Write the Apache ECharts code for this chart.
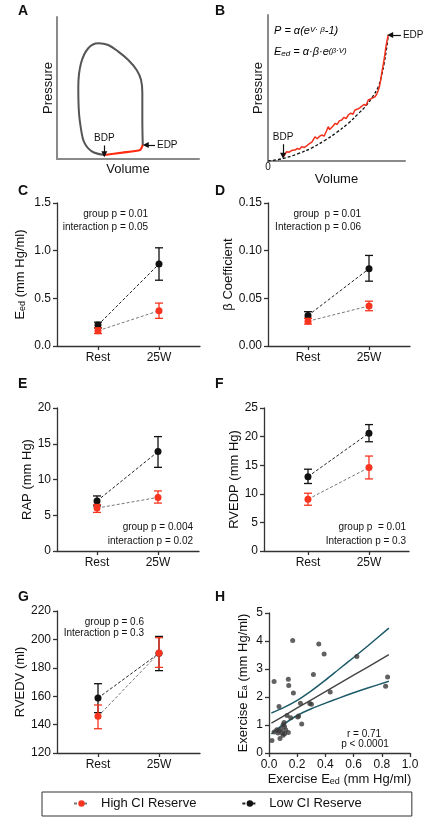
<!DOCTYPE html>
<html><head><meta charset="utf-8">
<script src="https://cdn.jsdelivr.net/npm/echarts@6/dist/echarts.min.js"></script>
<style>html,body{margin:0;padding:0;background:#fff}#c{width:435px;height:830px}</style>
</head><body><div id="c"></div>
<script>
// ================= DATA =================
const groups = ['Rest', '25W'];
const groupX = [1, 2];

// Panel A – schematic pressure–volume loop (arbitrary units)
const loopPV = [[33.3,2.8],[26,4.6],[22.0,7.5],[19,12],[17.4,18.1],[15.5,32.2],[15.0,50.9],[16.9,67.4],[22.0,78.0],[29.1,81.5],[36.1,80.3],[43.2,75.6],[50.2,69.7],[56.1,62.7],[59.2,55.6],[60.1,46.3],[60.1,27.5],[60.4,9.9]];
const fillingPV = [[33.3,2.8],[46,4.5],[58.5,6.3],[60.4,9.9]];
const pointBDP_A = [33.3, 2.8];
const pointEDP_A = [60.4, 9.9];

// Panel B – schematic diastolic P–V relation (arbitrary units)
const fitPV = [[0,0],[10,1.5],[22,5],[32,9],[42,14.4],[50,19.5],[58.6,25.8],[66,32.5],[71,37.2],[76,43.5],[80.5,50.9],[83,59],[84.8,67],[86.4,76],[87.8,86.3]];
const measuredPV = [[11.2,2.9],[12.5,4.8],[13.6,6.4],[15.5,6.0],[17.5,7.3],[19.7,7.5],[21.5,8.6],[23,8.0],[24.6,9.8],[26.5,9.3],[28.2,10.3],[30,11.8],[32,13.0],[34.3,16.6],[36,15.2],[37.5,16.8],[39.2,17.8],[41,17.0],[42.5,20.2],[44.0,23.5],[45,21.5],[46.0,20.8],[47.5,24.0],[48.9,25.8],[50.5,25.0],[52,27.5],[53.8,28.1],[55.5,29.9],[57,29.0],[58.6,31.5],[60.5,32.8],[62,32.0],[63.5,34.9],[65.5,35.6],[67,36.4],[68.4,37.2],[70,38.7],[71.5,38.0],[73.2,41.8],[75,42.5],[76.5,43.2],[78.1,44.0],[79.5,46.0],[80.5,48.5],[81.3,50.9],[82.2,55.0],[83.0,60.1],[83.6,63.5],[84.3,67.0],[84.7,69.2],[85.4,73.5],[86.1,78.3],[86.8,82.0],[87.8,86.3]];
const pointBDP_B = [11, 3.4];
const pointEDP_B = [87.8, 86.3];

// Panel C – Eed (mm Hg/ml)
const eedHigh = [0.16, 0.37], eedHighLo = [0.13, 0.29], eedHighHi = [0.19, 0.45];
const eedLow  = [0.22, 0.86], eedLowLo  = [0.19, 0.69], eedLowHi  = [0.25, 1.03];
// Panel D – beta coefficient
const betaHigh = [0.026, 0.042], betaHighLo = [0.023, 0.037], betaHighHi = [0.029, 0.047];
const betaLow  = [0.032, 0.081], betaLowLo  = [0.029, 0.068], betaLowHi  = [0.036, 0.095];
// Panel E – RAP (mm Hg)
const rapHigh = [6.0, 7.5], rapHighLo = [5.4, 6.7], rapHighHi = [6.5, 8.4];
const rapLow  = [7.0, 13.9], rapLowLo = [6.3, 11.7], rapLowHi = [7.7, 16.0];
// Panel F – RVEDP (mm Hg)
const rvedpHigh = [9.05, 14.6], rvedpHighLo = [8.0, 12.6], rvedpHighHi = [10.1, 16.6];
const rvedpLow  = [13.0, 20.6], rvedpLowLo  = [11.8, 19.1], rvedpLowHi  = [14.3, 22.1];
// Panel G – RVEDV (ml)
const rvedvHigh = [145.8, 190.4], rvedvHighLo = [137.1, 180.3], rvedvHighHi = [153.8, 201.2];
const rvedvLow  = [158.7, 190.2], rvedvLowLo  = [148.4, 178.0], rvedvLowHi  = [168.8, 202.1];

// Panel H – exercise Eed vs exercise Ea
const hEed = [0.036,0.168,0.137,0.140,0.173,0.353,0.391,0.315,0.623,0.841,0.827,0.434,0.071,0.223,0.289,0.301,0.128,0.154,0.204,0.21,0.232,0.107,0.100,0.110,0.036,0.055,0.071,0.085,0.095,0.110,0.137,0.078,0.100,0.021,0.118,0.064];
const hEa  = [2.55,4.02,2.63,2.41,2.14,3.89,3.54,2.80,3.45,2.71,2.38,2.18,1.66,1.78,1.77,1.74,1.34,1.26,1.29,1.32,1.04,1.09,1.01,0.95,0.75,0.83,0.79,0.85,0.71,0.69,0.73,0.52,0.63,0.45,0.83,0.71];
const fitX     = [0.017, 0.1, 0.2, 0.3, 0.4, 0.5, 0.6, 0.7, 0.85];
const fitLine  = [1.07, 1.31, 1.61, 1.90, 2.19, 2.49, 2.78, 3.07, 3.51];
const fitUpper = [1.43, 1.61, 1.88, 2.22, 2.60, 3.01, 3.41, 3.82, 4.46];
const fitLower = [0.68, 1.01, 1.34, 1.58, 1.78, 1.97, 2.15, 2.32, 2.56];

const yTicksE = [0, 5, 10, 15, 20];

// ================= STYLE =================
const FONT = "'Liberation Sans', Arial, Helvetica, sans-serif";
const RED = '#f7341f', BLACK = '#111', AX = '#333', TEAL = '#1c5a68';

const chart = echarts.init(document.getElementById('c'), null, {renderer: 'canvas'});

const grids = [
  {left:57, top:17, width:142, height:142},   // A 0
  {left:268, top:15, width:137, height:146},  // B 1
  {left:57, top:203, width:143, height:143},  // C 2
  {left:268, top:203, width:142, height:143}, // D 3
  {left:57, top:408, width:142, height:143},  // E 4
  {left:264, top:408, width:145, height:143}, // F 5
  {left:57, top:611, width:143, height:142},  // G 6
  {left:269, top:613, width:141, height:140}  // H 7
].map(g => Object.assign({outerBoundsMode:'none', containLabel:false}, g));

const axLine = {show:true, lineStyle:{color:AX, width:1.3}};
const axTick = {show:true, inside:false, length:4, lineStyle:{color:AX, width:1.3}};
const lbl = (o) => Object.assign({color:'#111', fontFamily:FONT, fontSize:12, margin:6}, o||{});
const subRich = {
  n:{fontFamily:FONT, fontSize:13, color:'#111', lineHeight:13, padding:[0,0,3,0], verticalAlign:'top'},
  s:{fontFamily:FONT, fontSize:9, color:'#111', lineHeight:9, verticalAlign:'bottom'}
};
const nameStyle = {fontFamily:FONT, fontSize:13, color:'#111', rich: subRich};

function schemAxisX(i, gap){
  return {gridIndex:i, type:'value', min:0, max:100, name:'Volume', nameLocation:'middle', nameGap:gap,
    nameTextStyle:nameStyle, axisLine:{show:true, lineStyle:{color:'#8a8a8a', width:2}},
    axisTick:{show:false}, splitLine:{show:false}, axisLabel:{show:false}};
}
function schemAxisY(i, gap){
  return {gridIndex:i, type:'value', min:0, max:100, name:'Pressure', nameLocation:'middle', nameGap:gap,
    nameTextStyle:nameStyle, axisLine:{show:true, lineStyle:{color:'#8a8a8a', width:2}},
    axisTick:{show:false}, splitLine:{show:false}, axisLabel:{show:false}};
}
function groupAxisX(i, min, max){
  return {gridIndex:i, type:'value', min:min, max:max, axisLine:axLine, axisTick:Object.assign({customValues:groupX}, axTick),
    splitLine:{show:false}, axisLabel:lbl({customValues:groupX, formatter:v => groups[Math.round(v)-1], margin:6})};
}
function valAxisY(i, min, max, interval, name, gap, dec){
  return {gridIndex:i, type:'value', min:min, max:max, interval:interval, name:name, nameLocation:'middle', nameGap:gap,
    nameTextStyle:nameStyle, axisLine:axLine, axisTick:axTick, splitLine:{show:false},
    axisLabel:lbl({formatter:v => dec==null ? String(Math.round(v)) : v.toFixed(dec), margin:6})};
}

const xAxes = [
  schemAxisX(0, 4),
  Object.assign(schemAxisX(1, 5), {axisLabel:{show:true, customValues:[0], formatter:()=> '0', fontFamily:FONT, fontSize:10, color:'#111', margin:1}}),
  groupAxisX(2, 0.328, 2.672),
  groupAxisX(3, 0.344, 2.672),
  groupAxisX(4, 0.344, 2.672),
  groupAxisX(5, 0.279, 2.656),
  groupAxisX(6, 0.328, 2.672),
  {gridIndex:7, type:'value', min:0, max:1, interval:0.2, name:'{n|Exercise E}{s|ed}{n| (mm Hg/ml)}', nameLocation:'middle', nameGap:20,
    nameTextStyle:nameStyle, axisLine:axLine, axisTick:axTick, splitLine:{show:false}, axisLabel:lbl({formatter:v=>v.toFixed(1), margin:6})}
];
const yAxes = [
  schemAxisY(0, 2),
  schemAxisY(1, 3),
  valAxisY(2, 0, 1.5, 0.5, '{n|E}{s|ed}{n| (mm Hg/ml)}', 26, 1),
  valAxisY(3, 0, 0.15, 0.05, 'β Coefficient', 30, 2),
  valAxisY(4, 0, 20, 5, 'RAP (mm Hg)', 20),
  valAxisY(5, 0, 25, 5, 'RVEDP (mm Hg)', 17),
  valAxisY(6, 120, 220, 20, 'RVEDV (ml)', 26),
  valAxisY(7, 0, 5, 1, '{n|Exercise E}{s|a}{n| (mm Hg/ml)}', 17)
];

function errRender(color){
  return function(params, api){
    const x = api.value(0);
    const top = api.coord([x, api.value(2)]);
    const bot = api.coord([x, api.value(1)]);
    const hw = 4;
    const st = {stroke:color, lineWidth:1.3};
    return {type:'group', children:[
      {type:'line', shape:{x1:top[0], y1:top[1], x2:bot[0], y2:bot[1]}, style:st},
      {type:'line', shape:{x1:top[0]-hw, y1:top[1], x2:top[0]+hw, y2:top[1]}, style:st},
      {type:'line', shape:{x1:bot[0]-hw, y1:bot[1], x2:bot[0]+hw, y2:bot[1]}, style:st}
    ]};
  };
}
const zip = (v) => groupX.map((x,i) => [x, v[i]]);
const zipErr = (lo, hi) => groupX.map((x,i) => [x, lo[i], hi[i]]);

function groupSeries(i, low, lowLo, lowHi, high, highLo, highHi){
  return [
    {type:'custom', name:'Low CI Reserve SEM', xAxisIndex:i, yAxisIndex:i, renderItem:errRender(BLACK), data:zipErr(lowLo, lowHi), encode:{x:0, y:[1,2]}, z:2, silent:true},
    {type:'line', name:'Low CI Reserve', xAxisIndex:i, yAxisIndex:i, data:zip(low), symbol:'circle', symbolSize:7,
      itemStyle:{color:BLACK}, lineStyle:{color:'#222', width:1, type:[3,2]}, z:3, silent:true, animation:false},
    {type:'custom', name:'High CI Reserve SEM', xAxisIndex:i, yAxisIndex:i, renderItem:errRender(RED), data:zipErr(highLo, highHi), encode:{x:0, y:[1,2]}, z:4, silent:true},
    {type:'line', name:'High CI Reserve', xAxisIndex:i, yAxisIndex:i, data:zip(high), symbol:'circle', symbolSize:7,
      itemStyle:{color:RED}, lineStyle:{color:'#777', width:1, type:[3,2]}, z:5, silent:true, animation:false}
  ];
}

const arrowLabel = (txt, pos) => ({show:true, formatter:txt, position:pos, fontFamily:FONT, fontSize:10, color:'#111', distance:2});
function arrowLine(from, to, txt, pos){
  return {silent:true, symbol:['none','triangle'], symbolSize:[6,6], animation:false,
    lineStyle:{color:'#111', width:1.2, type:'solid'}, label:arrowLabel(txt, pos),
    data:[[{coord:from}, {coord:to}]]};
}

const series = [
  // A
  {type:'line', xAxisIndex:0, yAxisIndex:0, data:loopPV, smooth:0.35, symbol:'none', lineStyle:{color:'#555', width:2}, silent:true, animation:false},
  {type:'line', xAxisIndex:0, yAxisIndex:0, data:fillingPV, smooth:0.2, symbol:'none', lineStyle:{color:'#ff2a10', width:2.2}, silent:true, animation:false,
    markLine: arrowLine([pointBDP_A[0], 9.5], [pointBDP_A[0], 3.3], 'BDP', 'start')},
  {type:'line', xAxisIndex:0, yAxisIndex:0, data:[pointEDP_A], symbol:'none', silent:true, animation:false, lineStyle:{opacity:0},
    markLine: arrowLine([69, pointEDP_A[1]], [62.5, pointEDP_A[1]], 'EDP', 'start')},
  // B
  {type:'line', xAxisIndex:1, yAxisIndex:1, data:fitPV, smooth:0.4, symbol:'none', lineStyle:{color:'#111', width:1.3, type:[3,2]}, silent:true, animation:false},
  {type:'line', xAxisIndex:1, yAxisIndex:1, data:measuredPV, symbol:'none', lineStyle:{color:'#f2301c', width:1.5}, silent:true, animation:false,
    markLine: arrowLine([pointBDP_B[0], 11.5], [pointBDP_B[0], 3.6], 'BDP', 'start')},
  {type:'line', xAxisIndex:1, yAxisIndex:1, data:[pointEDP_B], symbol:'none', silent:true, animation:false, lineStyle:{opacity:0},
    markLine: arrowLine([97, pointEDP_B[1]], [89.2, pointEDP_B[1]], 'EDP', 'start')},
  ...groupSeries(2, eedLow, eedLowLo, eedLowHi, eedHigh, eedHighLo, eedHighHi),
  ...groupSeries(3, betaLow, betaLowLo, betaLowHi, betaHigh, betaHighLo, betaHighHi),
  ...groupSeries(4, rapLow, rapLowLo, rapLowHi, rapHigh, rapHighLo, rapHighHi),
  ...groupSeries(5, rvedpLow, rvedpLowLo, rvedpLowHi, rvedpHigh, rvedpHighLo, rvedpHighHi),
  ...groupSeries(6, rvedvLow, rvedvLowLo, rvedvLowHi, rvedvHigh, rvedvHighLo, rvedvHighHi),
  // H
  {type:'scatter', xAxisIndex:7, yAxisIndex:7, data:hEed.map((x,i)=>[x, hEa[i]]), symbolSize:5, itemStyle:{color:'#3a3a3a'}, silent:true, z:5},
  {type:'line', xAxisIndex:7, yAxisIndex:7, data:fitX.map((x,i)=>[x, fitLine[i]]), symbol:'none', lineStyle:{color:'#444', width:1.4}, silent:true, animation:false},
  {type:'line', xAxisIndex:7, yAxisIndex:7, data:fitX.map((x,i)=>[x, fitUpper[i]]), smooth:0.3, symbol:'none', lineStyle:{color:TEAL, width:1.5}, silent:true, animation:false},
  {type:'line', xAxisIndex:7, yAxisIndex:7, data:fitX.map((x,i)=>[x, fitLower[i]]), smooth:0.3, symbol:'none', lineStyle:{color:TEAL, width:1.5}, silent:true, animation:false}
];

function txt(x, y, s, align, size){
  return {type:'text', x:x, y:y, silent:true, style:{text:s, fill:'#111', font:(size||10)+'px '+FONT, align:align||'right', verticalAlign:'middle'}};
}
function letter(x, y, s){
  return {type:'text', x:x, y:y, silent:true, style:{text:s, fill:'#111', font:'bold 14px '+FONT, align:'left', verticalAlign:'top'}};
}
const fRich = {
  i:{fontFamily:FONT, fontStyle:'italic', fontSize:11, color:'#111', lineHeight:11, padding:[4,0,4,0], verticalAlign:'middle'},
  sup:{fontFamily:FONT, fontStyle:'italic', fontSize:8, color:'#111', lineHeight:8, verticalAlign:'top'},
  sub:{fontFamily:FONT, fontStyle:'italic', fontSize:8, color:'#111', lineHeight:8, verticalAlign:'bottom'}
};

const graphic = [
  letter(18, 4.5, 'A'), letter(215, 4.5, 'B'),
  letter(18, 184.5, 'C'), letter(215, 184.5, 'D'),
  letter(18, 377.5, 'E'), letter(215, 377.5, 'F'),
  letter(18, 590.5, 'G'), letter(215, 590.5, 'H'),
  {type:'text', x:274, y:31, silent:true, style:{text:'{i|P = α(e}{sup|V· β}{i|-1)}', rich:fRich, align:'left', verticalAlign:'middle'}},
  {type:'text', x:274, y:52, silent:true, style:{text:'{i|E}{sub|ed}{i| = α·β·e}{sup|(β·V)}', rich:fRich, align:'left', verticalAlign:'middle'}},
  txt(148, 214, 'group p = 0.01'), txt(148, 227, 'interaction p = 0.05'),
  txt(361, 214, 'group  p = 0.01'), txt(361, 227, 'Interaction p = 0.06'),
  txt(193, 527, 'group p = 0.004'), txt(193, 541, 'interaction p = 0.02'),
  txt(406, 527, 'group p  = 0.01'), txt(406, 541, 'Interaction p = 0.3'),
  txt(144, 622, 'group p = 0.6'), txt(144, 633.5, 'Interaction p = 0.3'),
  txt(364, 734, 'r = 0.71', 'center'), txt(365, 744.5, 'p < 0.0001', 'center')
];

chart.setOption({
  animation:false,
  backgroundColor:'#fff',
  textStyle:{fontFamily:FONT},
  grid:grids, xAxis:xAxes, yAxis:yAxes, series:series, graphic:graphic,
  legend:{data:['High CI Reserve','Low CI Reserve'], left:42, top:792, orient:'horizontal',
    itemWidth:15, itemHeight:8, itemGap:45, padding:[5,50,6,31], borderColor:'#333', borderWidth:1,
    textStyle:{fontFamily:FONT, fontSize:13, color:'#111', padding:[0,0,0,7]}, selectedMode:false}
});
</script></body></html>
